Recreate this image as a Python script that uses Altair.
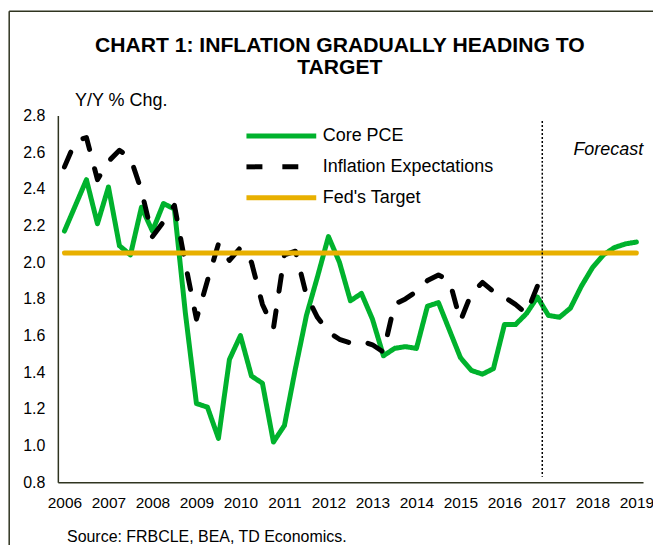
import altair as alt
import pandas as pd

# ---------------- data ----------------
QUARTERS = [f"{y}Q{q}" for y in range(2006, 2020) for q in range(1, 5)][:53]

CORE_PCE = [2.17, 2.31, 2.45, 2.21, 2.41, 2.09, 2.04, 2.30, 2.17, 2.32,
            2.29, 1.72, 1.23, 1.21, 1.04, 1.47, 1.60, 1.38, 1.34, 1.02,
            1.11, 1.42, 1.71, 1.92, 2.14, 2.00, 1.79, 1.83, 1.69, 1.49,
            1.53, 1.54, 1.53, 1.76, 1.78, 1.63, 1.48, 1.41, 1.39, 1.42,
            1.66, 1.66, 1.72, 1.81, 1.71, 1.70, 1.75, 1.87, 1.97, 2.04,
            2.08, 2.10, 2.11]

INFLATION_EXP = [2.52, 2.66, 2.68, 2.45, 2.55, 2.61, 2.57, 2.39, 2.14, 2.22,
                 2.31, 1.99, 1.69, 1.90, 2.10, 2.01, 2.08, 2.00, 1.77, 1.64,
                 2.04, 2.06, 1.82, 1.70, 1.62, 1.58, 1.56, 1.57, 1.55, 1.51,
                 1.77, 1.80, 1.84, 1.90, 1.93, 1.90, 1.68, 1.83, 1.89, 1.84,
                 1.81, 1.77, 1.72, 1.87]

FED_TARGET_VALUE = 2.05
FED_TARGET_SPAN = [2006.0, 2019.0]

FORECAST_START = 2016.86
FORECAST_LINE_Y = [2.77, 0.83]
FORECAST_LABEL = "Forecast"
FORECAST_LABEL_POS = [2018.36, 2.61]

SERIES = ["Core PCE", "Inflation Expectations", "Fed's Target"]
COLORS = ["#00B22D", "#000000", "#E8B000"]
DASHES = [[1, 0], [16, 20], [1, 0]]

YEAR_TICKS = list(range(2006, 2020))
Y_TICKS = [0.8, 1.0, 1.2, 1.4, 1.6, 1.8, 2.0, 2.2, 2.4, 2.6, 2.8]

TITLE = ["CHART 1: INFLATION GRADUALLY HEADING TO", "TARGET"]
Y_TITLE = "Y/Y % Chg."
SOURCE = "Source: FRBCLE, BEA, TD Economics."


def qpos(q):
    return int(q[:4]) + (int(q[5]) - 1) * 0.25


core_df = pd.DataFrame({"t": [qpos(q) for q in QUARTERS], "v": CORE_PCE,
                        "series": SERIES[0]})
exp_df = pd.DataFrame({"t": [qpos(q) for q in QUARTERS[:len(INFLATION_EXP)]],
                       "v": INFLATION_EXP, "series": SERIES[1]})
fed_df = pd.DataFrame({"t": FED_TARGET_SPAN,
                       "v": [FED_TARGET_VALUE] * len(FED_TARGET_SPAN),
                       "series": SERIES[2]})

FONT = "Liberation Sans, Arial, sans-serif"
AXIS_COLOR = "#2F3420"

x_scale = alt.Scale(domain=[2005.85, 2019.15], nice=False, zero=False)
y_scale = alt.Scale(domain=[0.8, 2.8], nice=False, zero=False)

x_axis = alt.Axis(values=YEAR_TICKS, format="d", grid=False, ticks=False,
                  labelFontSize=15.5, labelPadding=13, labelColor="black",
                  labelFlush=False, labelOverlap=False,
                  domainColor=AXIS_COLOR, domainWidth=1.5,
                  title=SOURCE, titleFontSize=16, titleFontWeight="normal",
                  titleColor="black", titleAnchor="start", titleAlign="left",
                  titleBaseline="middle", titleX=8.7, titleY=54.5)
y_axis = alt.Axis(values=Y_TICKS, format=".1f", grid=False, ticks=False,
                  labelFontSize=16, labelPadding=13, labelColor="black",
                  labelOverlap=False, labelFlush=False,
                  domainColor=AXIS_COLOR, domainWidth=1.5,
                  title=Y_TITLE, titleAngle=0, titleFontSize=18,
                  titleFontWeight="normal", titleColor="black",
                  titleAlign="left", titleBaseline="middle",
                  titleX=16.7, titleY=-15)

X_ENC = alt.X("t:Q", scale=x_scale, axis=x_axis)
Y_ENC = alt.Y("v:Q", scale=y_scale, axis=y_axis)

# legend symbol: a 70px horizontal stroke drawn from a custom path
LEGEND = alt.Legend(title=None, orient="none", legendX=211.7, legendY=8,
                    symbolType="M-3.5,0H3.5", symbolSize=400,
                    symbolStrokeWidth=5, symbolFillColor="transparent",
                    labelFontSize=18, labelColor="black", labelOffset=29,
                    labelLimit=400, rowPadding=8, padding=0)

color_enc = alt.Color("series:N",
                      scale=alt.Scale(domain=SERIES, range=COLORS),
                      legend=LEGEND)
dash_enc = alt.StrokeDash("series:N",
                          scale=alt.Scale(domain=SERIES, range=DASHES),
                          legend=LEGEND)


def series_layer(df):
    return alt.Chart(df).mark_line(strokeWidth=5, strokeJoin="round",
                                   strokeCap="round").encode(
        x=X_ENC, y=Y_ENC,
        color=color_enc,
        strokeDash=dash_enc,
        order=alt.Order("t:Q"),
    )


core = series_layer(core_df)
exp = series_layer(exp_df)
fed = series_layer(fed_df)

vline = alt.Chart(pd.DataFrame({"t": [FORECAST_START],
                                "v": [FORECAST_LINE_Y[0]],
                                "v2": [FORECAST_LINE_Y[1]]})).mark_rule(
    color="black", strokeWidth=1.5, strokeDash=[2, 2]).encode(
    x=X_ENC, y=Y_ENC, y2="v2:Q")

flabel = alt.Chart(pd.DataFrame({"t": [FORECAST_LABEL_POS[0]],
                                 "v": [FORECAST_LABEL_POS[1]],
                                 "txt": [FORECAST_LABEL]})).mark_text(
    fontSize=18, fontStyle="italic", font=FONT, color="black",
    align="center", baseline="middle").encode(x=X_ENC, y=Y_ENC, text="txt:N")

frame_df = pd.DataFrame({"k": [0]})
frame_left = alt.Chart(frame_df).mark_rule(color=AXIS_COLOR,
                                           strokeWidth=1.5).encode(
    x=alt.value(-48.8), y=alt.value(-104.5), y2=alt.value(520))
frame_top = alt.Chart(frame_df).mark_rule(color=AXIS_COLOR,
                                          strokeWidth=1.5).encode(
    x=alt.value(-48.8), x2=alt.value(700), y=alt.value(-104.5))

chart = alt.layer(core, exp, fed, vline, flabel, frame_left, frame_top).properties(
    width=587, height=368,
    title=alt.TitleParams(text=TITLE, fontSize=21.2, fontWeight="bold",
                          font=FONT, color="black", anchor="middle",
                          frame="group", dx=-10.7, offset=-68, lineHeight=22),
    autosize=alt.AutoSizeParams(type="none"),
    padding={"left": 50, "top": 107, "right": 10, "bottom": 62},
).configure(font=FONT).configure_view(
    stroke="transparent").configure_axis(labelOverlap=False)

chart.save("out.html", embed_options={"renderer": "svg", "actions": False})
